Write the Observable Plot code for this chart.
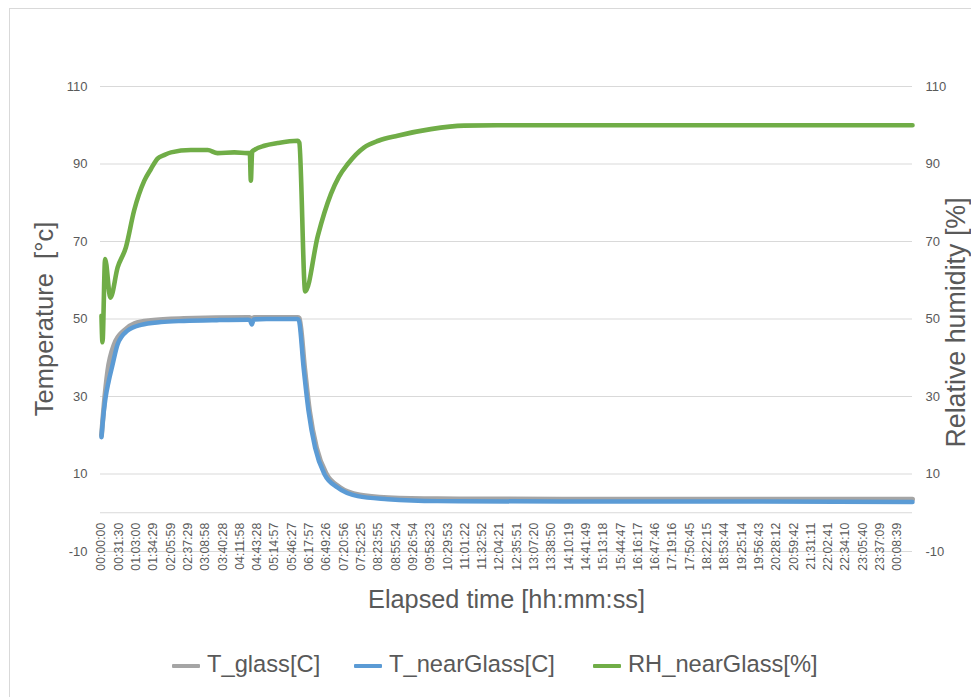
<!DOCTYPE html>
<html>
<head>
<meta charset="utf-8">
<script src="https://cdn.jsdelivr.net/npm/d3@7"></script>
<script src="https://cdn.jsdelivr.net/npm/@observablehq/plot@0.6"></script>
<style>
  html, body { margin: 0; padding: 0; background: #fff; }
  body { width: 971px; height: 697px; overflow: hidden; position: relative;
         font-family: "Liberation Sans", Arial, sans-serif; }
  #frame { position: absolute; left: 9px; top: 8px; width: 1000px; height: 1000px;
           border: 1px solid #d9d9d9; box-sizing: border-box; }
  #chart { position: absolute; left: 0; top: 0; }
  #legend { position: absolute; left: 0; top: 640px; width: 971px; height: 57px; }
  .item { position: absolute; top: 0; height: 57px; }
  .sw { position: absolute; top: 24px; width: 28px; height: 4px; border-radius: 1px; }
  .lab { position: absolute; left: 35px; top: 13px; white-space: nowrap; font-size: 23.7px;
         line-height: 23.7px; color: #595959; }
</style>
</head>
<body>
<div id="frame"></div>
<div id="chart"></div>
<div id="legend"></div>
<script>
// ---- data (time in hours from start) ----
const seriesNames = ["T_glass[C]", "T_nearGlass[C]", "RH_nearGlass[%]"];
const seriesColors = ["#A5A5A5", "#5B9BD5", "#70AD47"];

const grayTime  = [0, 0.03, 0.08, 0.19, 0.39, 0.68, 1.0, 1.5, 2.5, 4.45, 4.5, 4.55, 4.62, 5.95, 6.0, 6.16, 6.31, 6.52, 6.82, 7.22, 7.83, 8.7, 10.2, 14, 20, 24.6];
const grayValue = [20, 23, 28, 36.6, 43.5, 47, 48.8, 49.6, 50.1, 50.4, 50.4, 49.6, 50.4, 50.4, 50.2, 37.5, 26.3, 16.8, 10, 6.6, 4.6, 3.9, 3.6, 3.5, 3.5, 3.5];

const blueTime  = [0, 0.05, 0.12, 0.22, 0.33, 0.49, 0.79, 1.2, 1.8, 2.5, 3.5, 4.45, 4.5, 4.56, 4.62, 5.0, 5.95, 5.99, 6.13, 6.28, 6.48, 6.76, 7.16, 7.77, 8.68, 10.2, 14, 20, 24.6];
const blueValue = [19.5, 24.5, 29.5, 34, 38, 43.5, 47, 48.5, 49.2, 49.5, 49.7, 49.8, 49.7, 48.6, 49.9, 50, 50, 49.6, 37.5, 26.3, 16.8, 10, 6.5, 4.3, 3.5, 3.0, 2.9, 2.9, 2.8];

const rhTime  = [0, 0.03, 0.11, 0.27, 0.49, 0.74, 0.99, 1.30, 1.50, 1.70, 1.90, 2.11, 2.71, 3.22, 3.52, 4.03, 4.43, 4.50, 4.53, 4.57, 4.63, 4.94, 5.34, 5.95, 6.00, 6.18, 6.56, 6.96, 7.20, 7.47, 7.97, 8.40, 8.98, 9.99, 11.0, 12.0, 24.6];
const rhValue = [50.8, 44, 65.5, 55.5, 63.3, 68.5, 78, 85.7, 88.7, 91.4, 92.3, 93, 93.6, 93.6, 92.8, 93, 92.8, 92.8, 85.7, 93.2, 93.6, 94.7, 95.4, 96, 95.5, 57.1, 71.4, 82.3, 86.7, 90, 94.3, 96, 97.3, 99, 99.9, 100, 100];

const xTickLabels = ["00:00:00","00:31:30","01:03:00","01:34:29","02:05:59","02:37:29","03:08:58","03:40:28","04:11:58","04:43:28","05:14:57","05:46:27","06:17:57","06:49:26","07:20:56","07:52:25","08:23:55","08:55:24","09:26:54","09:58:23","10:29:53","11:01:22","11:32:52","12:04:21","12:35:51","13:07:20","13:38:50","14:10:19","14:41:49","15:13:18","15:44:47","16:16:17","16:47:46","17:19:16","17:50:45","18:22:15","18:53:44","19:25:14","19:56:43","20:28:12","20:59:42","21:31:11","22:02:41","22:34:10","23:05:40","23:37:09","00:08:39"];
const yTicks = [-10, 10, 30, 50, 70, 90, 110];

const xTitle = "Elapsed time [hh:mm:ss]";
const yLeftTitle = "Temperature\u00a0 [°c]";
const yRightTitle = "Relative humidity [%]";

// ---- build tables ----
const toTable = (ts, vs) => ts.map((t, i) => ({t, v: vs[i]}));
const gray = toTable(grayTime, grayValue);
const blue = toTable(blueTime, blueValue);
const rh = toTable(rhTime, rhValue);

let prev = -1, dayOffset = 0;
const xTicks = xTickLabels.map(s => {
  const [h, m, sec] = s.split(":").map(Number);
  let hours = h + m / 60 + sec / 3600;
  if (hours + dayOffset < prev) dayOffset += 24;
  hours += dayOffset;
  prev = hours;
  return {t: hours, label: s};
});

const textColor = "#595959";
const gridColor = "#d9d9d9";
const lineStyle = {x: "t", y: "v", curve: "monotone-x", strokeLinejoin: "round", strokeLinecap: "round"};

const chart = Plot.plot({
  width: 971,
  height: 640,
  marginLeft: 100,
  marginRight: 59,
  marginTop: 86,
  marginBottom: 89,
  style: {fontFamily: "Liberation Sans, Arial, sans-serif", background: "transparent", overflow: "visible"},
  x: {domain: [-0.03, 24.6], axis: null},
  y: {domain: [-10, 110], axis: null},
  marks: [
    Plot.ruleY(yTicks, {stroke: gridColor, strokeWidth: 1}),
    Plot.ruleY([0], {stroke: gridColor, strokeWidth: 1}),
    Plot.axisY({anchor: "left", ticks: yTicks, tickFormat: d => String(d), tickSize: 0, tickPadding: 13, fontSize: 13, color: textColor, label: null}),
    Plot.axisY({anchor: "right", ticks: yTicks, tickFormat: d => String(d), tickSize: 0, tickPadding: 13, fontSize: 13, color: textColor, label: null}),
    Plot.text(xTicks, {x: "t", y: () => 0, text: "label", rotate: -90, textAnchor: "end", lineAnchor: "middle", dy: 10, fontSize: 12.3, fill: textColor}),
    Plot.line(gray, {...lineStyle, stroke: seriesColors[0], strokeWidth: 5}),
    Plot.line(blue, {...lineStyle, stroke: seriesColors[1], strokeWidth: 4.5}),
    Plot.line(rh, {...lineStyle, stroke: seriesColors[2], strokeWidth: 4.6}),
    Plot.text([xTitle], {frameAnchor: "bottom", textAnchor: "middle", lineAnchor: "bottom", dy: 56, fontSize: 25.3, fill: textColor}),
    Plot.text([yLeftTitle], {frameAnchor: "left", textAnchor: "middle", rotate: -90, lineAnchor: "bottom", dx: -48, dy: 0, fontSize: 25.5, fill: textColor}),
    Plot.text([yRightTitle], {frameAnchor: "right", textAnchor: "middle", rotate: -90, lineAnchor: "bottom", dx: 52, dy: 3.5, fontSize: 26.8, fill: textColor})
  ]
});
document.getElementById("chart").appendChild(chart);

// ---- legend ----
const legendLefts = [172, 354, 593];
const legend = document.getElementById("legend");
seriesNames.forEach((name, i) => {
  const item = document.createElement("div");
  item.className = "item";
  item.style.left = legendLefts[i] + "px";
  const sw = document.createElement("div");
  sw.className = "sw";
  sw.style.background = seriesColors[i];
  const lab = document.createElement("div");
  lab.className = "lab";
  lab.textContent = name;
  item.appendChild(sw);
  item.appendChild(lab);
  legend.appendChild(item);
});
</script>
</body>
</html>
